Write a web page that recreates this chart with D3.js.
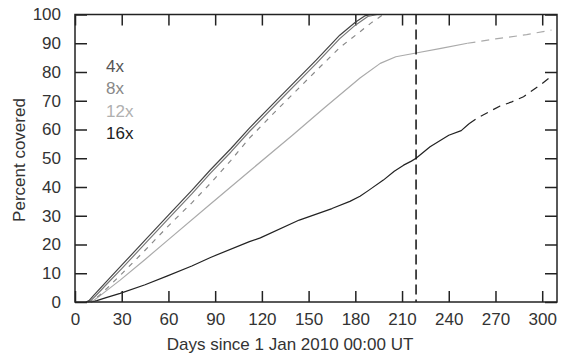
<!DOCTYPE html>
<html><head><meta charset="utf-8">
<script src="https://cdn.jsdelivr.net/npm/d3@7"></script>
<style>
body{margin:0;background:#fff;}
svg{font-family:"Liberation Sans",Arial,Helvetica,sans-serif;}
</style></head>
<body><svg id="c" width="570" height="359"></svg>
<script>
// ---- data (day, percent covered) ----
const xTicks = [0,30,60,90,120,150,180,210,240,270,300];
const yTicks = [0,10,20,30,40,50,60,70,80,90,100];
const legendLabels = ["4x","8x","12x","16x"];
const cutoffDay = 219;

const s4x = [[7,0],[9,0.5],[12,2.3],[20,7],[30,12.8],[45,21.5],[60,30.2],[75,38.8],[87,46],[100,53.3],[112,60.5],[130,70.5],[155,84.2],[170,92.8],[180,97.3],[186,99.5],[190,100],[200,100]];
const s8x = [[8,0],[10,0.4],[13,2],[20,6],[30,11.6],[45,20.3],[60,29],[75,37.6],[87,44.8],[100,52.1],[112,59.3],[130,69.3],[155,83],[170,91.6],[180,96.3],[188,99.3],[194,100],[200,100]];
const sDashGray = [[8,0],[11,0.5],[15,2],[20,4.5],[30,9.8],[45,18],[60,26.5],[75,34.5],[87,41.3],[100,49.2],[112,57],[130,67],[155,80.5],[170,88.5],[183,94],[190,97],[198,100]];
const s12x = [[9,0],[12,0.5],[18,3],[29,7.6],[45,14.8],[60,21.7],[87,34.1],[112,45.5],[140,58.2],[160,67.5],[183,77.9],[196,83],[206,85.3],[219,86.6],[235,88.2],[252,90]];
const s12xExt = [[252,90],[270,91.5],[290,93],[306,94.6]];
const s16x = [[10,0],[14,0.5],[20,1.5],[29,3],[45,6],[59,9],[75,12.5],[87,15.5],[112,21],[119,22.3],[144,28.5],[165,32.5],[176.5,35],[183,36.8],[189,39],[198,42.4],[205,45.5],[211,47.6],[216,49],[219,50],[228,54],[240,58],[248,59.6],[253,62]];
const s16xExt = [[253,62],[258,63.9],[273,68.2],[280,69.5],[288,71.4],[300,76],[307,79]];

const svg = d3.select("#c");
const x = d3.scaleLinear([0,309.5],[75,557]);
const y = d3.scaleLinear([0,100],[302,14.5]);
const txt = "#333";
const fs = 17;

function styleAxis(g){
  g.select(".domain").remove();
  g.selectAll(".tick line").attr("stroke","#222").attr("stroke-width",1.5);
  g.selectAll(".tick text").attr("fill",txt).attr("font-size",fs).attr("font-family","Liberation Sans, Arial, sans-serif");
}
svg.append("g").attr("transform",`translate(0,${y(0)})`)
  .call(d3.axisBottom(x).tickValues(xTicks).tickSizeInner(-11).tickSizeOuter(0).tickPadding(11).tickFormat(d3.format("d")))
  .call(styleAxis);
svg.append("g").attr("transform",`translate(0,${y(100)})`)
  .call(d3.axisTop(x).tickValues(xTicks).tickSizeInner(-11).tickSizeOuter(0).tickFormat(""))
  .call(styleAxis);
svg.append("g").attr("transform",`translate(${x.range()[0]},0)`)
  .call(d3.axisLeft(y).tickValues(yTicks).tickSizeInner(-12).tickSizeOuter(0).tickPadding(14).tickFormat(d3.format("d")))
  .call(styleAxis);
svg.append("g").attr("transform",`translate(${x.range()[1]},0)`)
  .call(d3.axisRight(y).tickValues(yTicks).tickSizeInner(-12).tickSizeOuter(0).tickFormat(""))
  .call(styleAxis);

const line = d3.line().x(d=>x(d[0])).y(d=>y(d[1]));
function draw(data,color,dash,w){
  svg.append("path").datum(data).attr("d",line).attr("fill","none")
    .attr("stroke",color).attr("stroke-width",w||1.2)
    .attr("stroke-dasharray",dash||null).attr("stroke-linejoin","round");
}
draw(s16x,"#222");
draw(s16xExt,"#222","8,6");
draw(s12x,"#aaa");
draw(s12xExt,"#aaa","8,6");
draw(sDashGray,"#888","5,6");
draw(s8x,"#777");
draw(s4x,"#444");

svg.append("line").attr("x1",x(cutoffDay)).attr("x2",x(cutoffDay))
  .attr("y1",y(100)).attr("y2",y(0)).attr("stroke","#111").attr("stroke-width",1.5)
  .attr("stroke-dasharray","10,5");

svg.append("rect").attr("x",x.range()[0]).attr("y",y(100))
  .attr("width",x.range()[1]-x.range()[0]).attr("height",y(0)-y(100))
  .attr("fill","none").attr("stroke","#222").attr("stroke-width",1.5);

const legColors = ["#555","#888","#b0b0b0","#222"];
const legBase = [72,94,116.5,139];
legendLabels.forEach((l,i)=>{
  svg.append("text").attr("x",106).attr("y",legBase[i]).attr("fill",legColors[i])
    .attr("font-size",fs).text(l);
});

svg.append("text").attr("x",290).attr("y",350).attr("text-anchor","middle")
  .attr("fill",txt).attr("font-size",fs).text("Days since 1 Jan 2010 00:00 UT");
svg.append("text").attr("transform","translate(25,160) rotate(-90)").attr("text-anchor","middle")
  .attr("fill",txt).attr("font-size",fs).text("Percent covered");
</script></body></html>
